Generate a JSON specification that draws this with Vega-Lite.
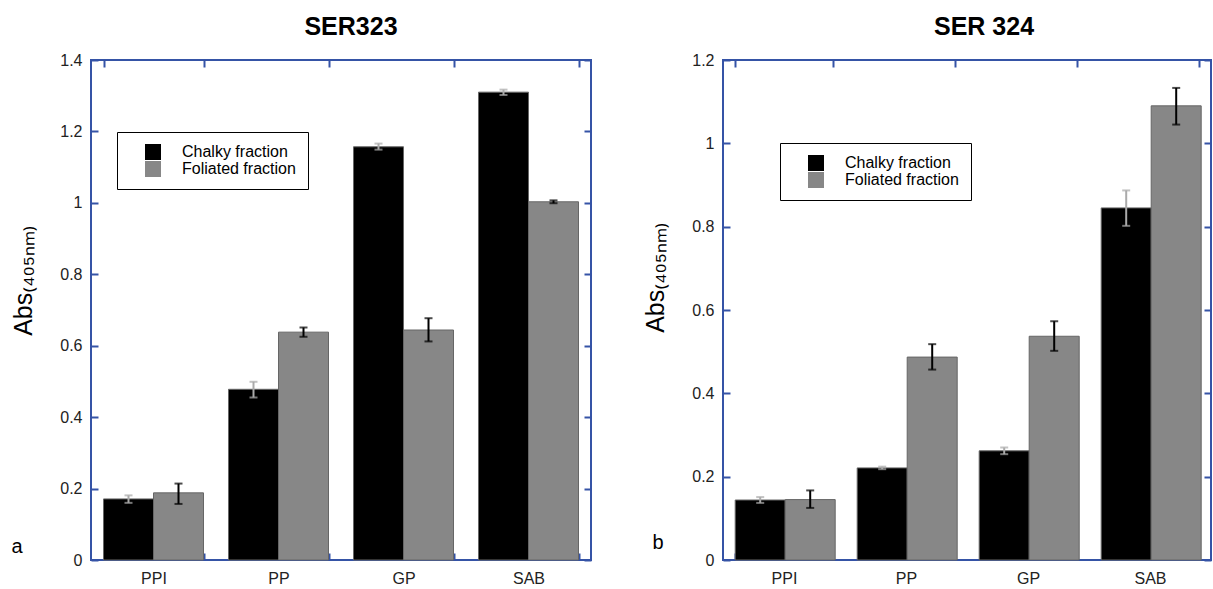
{
  "$schema": "https://vega.github.io/schema/vega-lite/v6.json",
  "padding": {"left": 10, "top": 14, "right": 0, "bottom": 0},
  "background": "white",
  "config": {
    "font": "Liberation Sans",
    "view": {"stroke": "#3553A6", "strokeWidth": 2},
    "title": {"fontSize": 25, "fontWeight": "bold", "font": "Liberation Sans", "offset": 12, "color": "#000"},
    "axis": {
      "domain": false, "grid": false, "tickColor": "#3553A6", "tickWidth": 2, "tickSize": -7,
      "labelFont": "Liberation Sans", "labelFontSize": 16, "labelColor": "#222",
      "titleFont": "Liberation Sans", "titleFontWeight": "normal", "titleColor": "#000"
    },
    "legend": {
      "strokeColor": "#000", "fillColor": "white", "padding": 12, "symbolOffset": 16,
      "symbolType": "square", "symbolSize": 256, "symbolStrokeWidth": 0,
      "labelFontSize": 16, "labelFont": "Liberation Sans", "rowPadding": 1, "labelOffset": 21
    }
  },
  "datasets": {
    "a": [
      {"site": "PPI", "fraction": "Chalky fraction", "value": 0.171, "lo": 0.160, "hi": 0.181},
      {"site": "PPI", "fraction": "Foliated fraction", "value": 0.188, "lo": 0.157, "hi": 0.214},
      {"site": "PP", "fraction": "Chalky fraction", "value": 0.478, "lo": 0.455, "hi": 0.499},
      {"site": "PP", "fraction": "Foliated fraction", "value": 0.638, "lo": 0.625, "hi": 0.651},
      {"site": "GP", "fraction": "Chalky fraction", "value": 1.157, "lo": 1.149, "hi": 1.166},
      {"site": "GP", "fraction": "Foliated fraction", "value": 0.644, "lo": 0.612, "hi": 0.677},
      {"site": "SAB", "fraction": "Chalky fraction", "value": 1.310, "lo": 1.302, "hi": 1.317},
      {"site": "SAB", "fraction": "Foliated fraction", "value": 1.003, "lo": 0.999, "hi": 1.007}
    ],
    "b": [
      {"site": "PPI", "fraction": "Chalky fraction", "value": 0.144, "lo": 0.137, "hi": 0.151},
      {"site": "PPI", "fraction": "Foliated fraction", "value": 0.145, "lo": 0.125, "hi": 0.167},
      {"site": "PP", "fraction": "Chalky fraction", "value": 0.221, "lo": 0.218, "hi": 0.224},
      {"site": "PP", "fraction": "Foliated fraction", "value": 0.487, "lo": 0.457, "hi": 0.518},
      {"site": "GP", "fraction": "Chalky fraction", "value": 0.262, "lo": 0.254, "hi": 0.270},
      {"site": "GP", "fraction": "Foliated fraction", "value": 0.537, "lo": 0.502, "hi": 0.573},
      {"site": "SAB", "fraction": "Chalky fraction", "value": 0.845, "lo": 0.802, "hi": 0.887},
      {"site": "SAB", "fraction": "Foliated fraction", "value": 1.090, "lo": 1.045, "hi": 1.133}
    ]
  },
  "hconcat": [
    {
      "title": {"text": "SER323", "dx": 10},
      "width": 500, "height": 500,
      "data": {"name": "a"},
      "resolve": {"axis": {"x": "independent", "y": "independent"}, "scale": {"color": "independent"}},
      "layer": [
        {
          "mark": {"type": "bar", "strokeWidth": 1},
          "encoding": {
            "x": {"field": "site", "type": "nominal", "sort": ["PPI", "PP", "GP", "SAB"],
                  "scale": {"paddingInner": 0.2, "paddingOuter": 0.1},
                  "axis": {"labelAngle": 0, "labelPadding": 17, "tickBand": "extent", "title": "a", "titleFontSize": 20, "titleAnchor": "start", "titleX": -80, "titleY": -4, "titleBaseline": "bottom"}},
            "xOffset": {"field": "fraction", "type": "nominal", "scale": {"paddingInner": 0, "paddingOuter": 0}},
            "y": {"field": "value", "type": "quantitative",
                  "scale": {"domain": [0, 1.4], "nice": false},
                  "axis": {"values": [0, 0.2, 0.4, 0.6, 0.8, 1, 1.2, 1.4], "format": "~g", "labelPadding": 16, "title": "Abs₍₄₀₅ₙₘ₎", "titleFontSize": 25, "titlePadding": 23, "titleY": 220}},
            "color": {"field": "fraction", "type": "nominal",
                      "scale": {"domain": ["Chalky fraction", "Foliated fraction"], "range": ["#000000", "#878787"]},
                      "legend": {"title": null, "orient": "none", "legendX": 26, "legendY": 72,
                                 "encode": {"labels": {"update": {"fill": {"signal": "datum.label == 'Chalky fraction' ? '#000' : '#aaa'"}}}}}},
            "stroke": {"value": "#666"}
          }
        },
        {
          "mark": {"type": "rule", "strokeWidth": 2},
          "encoding": {
            "x": {"field": "site", "type": "nominal", "sort": ["PPI", "PP", "GP", "SAB"],
                  "axis": {"orient": "top", "labels": false, "title": null, "tickBand": "extent"}},
            "xOffset": {"field": "fraction", "type": "nominal"},
            "y": {"field": "lo", "type": "quantitative",
                  "axis": {"orient": "right", "labels": false, "title": null, "values": [0, 0.2, 0.4, 0.6, 0.8, 1, 1.2, 1.4]}},
            "y2": {"field": "hi"},
            "color": {"field": "fraction", "type": "nominal", "scale": {"domain": ["Chalky fraction", "Foliated fraction"], "range": ["#aaaaaa", "#000000"]}, "legend": null}
          }
        },
        {
          "mark": {"type": "tick", "thickness": 2, "size": 8},
          "encoding": {
            "x": {"field": "site", "type": "nominal", "sort": ["PPI", "PP", "GP", "SAB"], "axis": null},
            "xOffset": {"field": "fraction", "type": "nominal"},
            "y": {"field": "lo", "type": "quantitative", "axis": null},
            "color": {"field": "fraction", "type": "nominal", "scale": {"domain": ["Chalky fraction", "Foliated fraction"], "range": ["#aaaaaa", "#000000"]}, "legend": null}
          }
        },
        {
          "mark": {"type": "tick", "thickness": 2, "size": 8},
          "encoding": {
            "x": {"field": "site", "type": "nominal", "sort": ["PPI", "PP", "GP", "SAB"], "axis": null},
            "xOffset": {"field": "fraction", "type": "nominal"},
            "y": {"field": "hi", "type": "quantitative", "axis": null},
            "color": {"field": "fraction", "type": "nominal", "scale": {"domain": ["Chalky fraction", "Foliated fraction"], "range": ["#aaaaaa", "#000000"]}, "legend": null}
          }
        }
      ]
    },
    {
      "title": {"text": "SER 324", "dx": 17},
      "width": 488, "height": 500,
      "data": {"name": "b"},
      "resolve": {"axis": {"x": "independent", "y": "independent"}, "scale": {"color": "independent"}},
      "layer": [
        {
          "mark": {"type": "bar", "strokeWidth": 1},
          "encoding": {
            "x": {"field": "site", "type": "nominal", "sort": ["PPI", "PP", "GP", "SAB"],
                  "scale": {"paddingInner": 0.2, "paddingOuter": 0.1},
                  "axis": {"labelAngle": 0, "labelPadding": 17, "tickBand": "extent", "title": "b", "titleFontSize": 20, "titleAnchor": "start", "titleX": -71, "titleY": -8, "titleBaseline": "bottom"}},
            "xOffset": {"field": "fraction", "type": "nominal", "scale": {"paddingInner": 0, "paddingOuter": 0}},
            "y": {"field": "value", "type": "quantitative",
                  "scale": {"domain": [0, 1.2], "nice": false},
                  "axis": {"values": [0, 0.2, 0.4, 0.6, 0.8, 1, 1.2], "format": "~g", "labelPadding": 16, "title": "Abs₍₄₀₅ₙₘ₎", "titleFontSize": 25, "titlePadding": 23, "titleY": 217}},
            "color": {"field": "fraction", "type": "nominal",
                      "scale": {"domain": ["Chalky fraction", "Foliated fraction"], "range": ["#000000", "#878787"]},
                      "legend": {"title": null, "orient": "none", "legendX": 57, "legendY": 83,
                                 "encode": {"labels": {"update": {"fill": {"signal": "datum.label == 'Chalky fraction' ? '#000' : '#aaa'"}}}}}},
            "stroke": {"value": "#666"}
          }
        },
        {
          "mark": {"type": "rule", "strokeWidth": 2},
          "encoding": {
            "x": {"field": "site", "type": "nominal", "sort": ["PPI", "PP", "GP", "SAB"],
                  "axis": {"orient": "top", "labels": false, "title": null, "tickBand": "extent"}},
            "xOffset": {"field": "fraction", "type": "nominal"},
            "y": {"field": "lo", "type": "quantitative",
                  "axis": {"orient": "right", "labels": false, "title": null, "values": [0, 0.2, 0.4, 0.6, 0.8, 1, 1.2]}},
            "y2": {"field": "hi"},
            "color": {"field": "fraction", "type": "nominal", "scale": {"domain": ["Chalky fraction", "Foliated fraction"], "range": ["#aaaaaa", "#000000"]}, "legend": null}
          }
        },
        {
          "mark": {"type": "tick", "thickness": 2, "size": 8},
          "encoding": {
            "x": {"field": "site", "type": "nominal", "sort": ["PPI", "PP", "GP", "SAB"], "axis": null},
            "xOffset": {"field": "fraction", "type": "nominal"},
            "y": {"field": "lo", "type": "quantitative", "axis": null},
            "color": {"field": "fraction", "type": "nominal", "scale": {"domain": ["Chalky fraction", "Foliated fraction"], "range": ["#aaaaaa", "#000000"]}, "legend": null}
          }
        },
        {
          "mark": {"type": "tick", "thickness": 2, "size": 8},
          "encoding": {
            "x": {"field": "site", "type": "nominal", "sort": ["PPI", "PP", "GP", "SAB"], "axis": null},
            "xOffset": {"field": "fraction", "type": "nominal"},
            "y": {"field": "hi", "type": "quantitative", "axis": null},
            "color": {"field": "fraction", "type": "nominal", "scale": {"domain": ["Chalky fraction", "Foliated fraction"], "range": ["#aaaaaa", "#000000"]}, "legend": null}
          }
        }
      ]
    }
  ],
  "spacing": 49
}
